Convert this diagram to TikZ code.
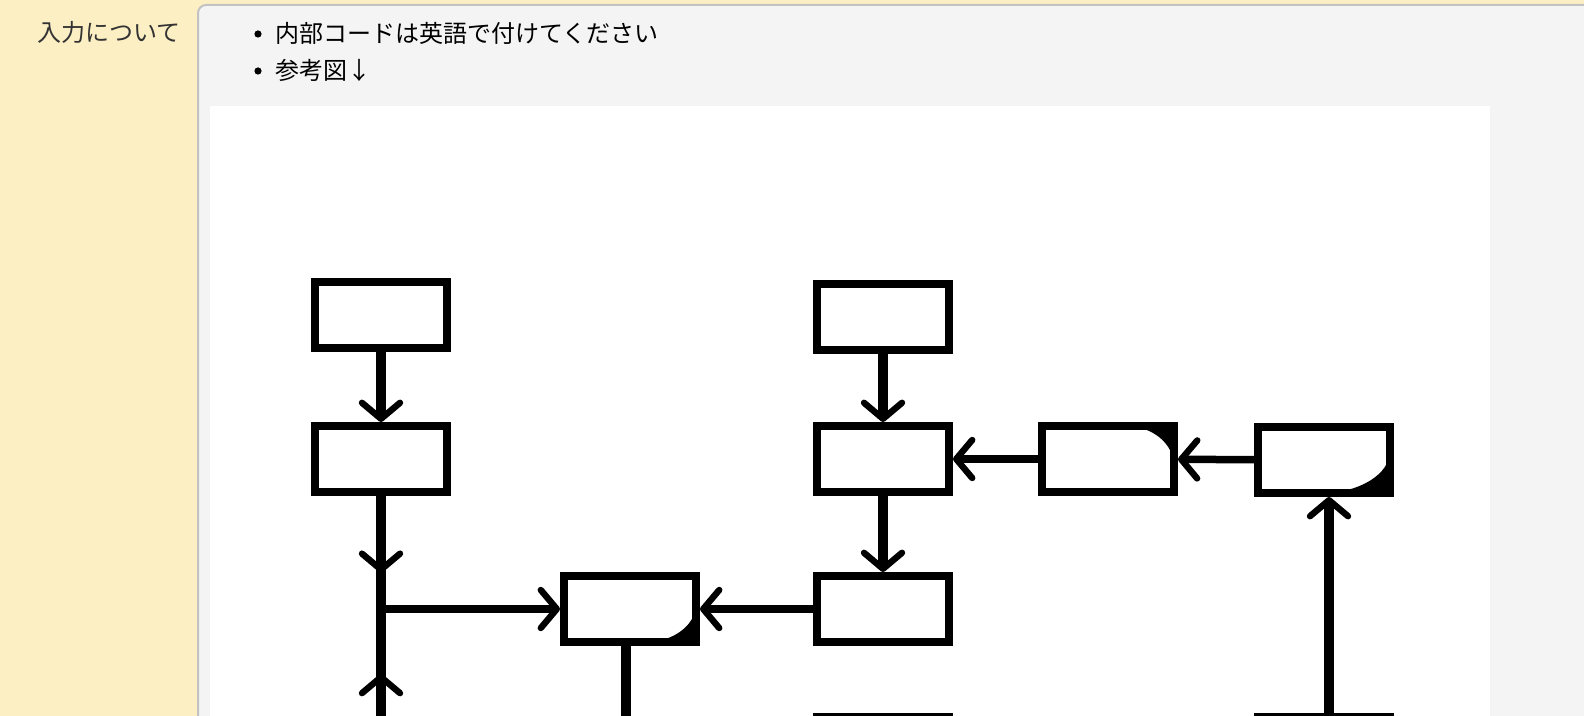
\documentclass[tikz,border=0pt]{standalone}
\usepackage{fontspec}
\setmainfont{Noto Sans CJK JP}
\usetikzlibrary{arrows.meta, decorations.markings}

\definecolor{sheetyellow}{HTML}{FCEFC4}
\definecolor{panelgray}{HTML}{F4F4F4}
\definecolor{panelrule}{HTML}{C2C2C2}
\definecolor{labelgray}{HTML}{333333}

\tikzset{
	blk/.style = {draw, line width = 4pt, fill = white, minimum width = 66pt, minimum height = 33pt, inner sep = 0pt},
	barb/.tip = {Straight Barb[length = 8pt, width = 19pt, line width = 3.2pt, round]},
	vlink/.style = {line width = 5pt},
	hlink/.style = {line width = 3.75pt},
	midbarb/.style = {postaction = {decorate}, decoration = {markings, mark = at position #1 with {\arrow{barb}}}},
	txt/.style = {inner sep = 0pt, font = \fontsize{12pt}{14pt}\selectfont},
	dot/.style = {circle, fill = black, inner sep = 0pt, minimum size = 3.6pt},
	blob ne/.style 2 args = {path picture = {
		\fill [black] (path picture bounding box.north east)
			-- ([xshift = -#1]path picture bounding box.north east)
			.. controls ([xshift = -0.45*#1]path picture bounding box.north east)
			and ([yshift = -0.45*#2]path picture bounding box.north east)
			.. ([yshift = -#2]path picture bounding box.north east) -- cycle;
	}},
	blob se/.style 2 args = {path picture = {
		\fill [black] (path picture bounding box.south east)
			-- ([xshift = -#1]path picture bounding box.south east)
			.. controls ([xshift = -0.45*#1]path picture bounding box.south east)
			and ([yshift = 0.45*#2]path picture bounding box.south east)
			.. ([yshift = #2]path picture bounding box.south east) -- cycle;
	}}
}

\begin{document}
\begin{tikzpicture}[x = 0.5pt, y = -0.5pt]

	% Page frame
	
	\useasboundingbox (0, 0) rectangle (1584, 716);
	\clip (0, 0) rectangle (1584, 716);
	\fill [sheetyellow] (0, 0) rectangle (1584, 716);
	\filldraw [fill = panelgray, draw = panelrule, line width = 1pt, rounded corners = 4pt] (198, 5) rectangle (1640, 780);
	\fill [white] (210, 106) rectangle (1490, 780);
	
	% Label and list
	
	\node [txt, anchor = east, text = labelgray] (label) at (181, 32) {入力について};
	\node [dot] (dota) at (258, 34) {};
	\node [dot] (dotb) at (258, 71) {};
	\node [txt, anchor = west] (itema) at (275, 33) {内部コードは英語で付けてください};
	\node [txt, anchor = west] (itemb) at (275, 70) {参考図↓};
	
	% Flow chart
	
	\begin{scope}
	
		\clip (210, 106) rectangle (1490, 716);
		
		\node [blk] (boxa) at (381, 315) {};
		\node [blk] (boxb) at (381, 459) {};
		\node [blk] (boxc) at (883, 317) {};
		\node [blk] (boxd) at (883, 459) {};
		\node [blk, blob ne = {24pt}{20pt}] (boxe) at (1108, 459) {};
		\node [blk, blob se = {34pt}{21pt}] (boxf) at (1324, 460) {};
		\node [blk, blob se = {25pt}{19pt}] (boxg) at (630, 609) {};
		\node [blk] (boxh) at (883, 609) {};
		\node [blk] (boxi) at (883, 750) {};
		\node [blk] (boxj) at (1324, 750) {};
		
		\coordinate (join) at (381, 609);
		\coordinate (lowin) at (381, 760);
		\coordinate (lowout) at (626, 760);
		\coordinate (upfeed) at (1329, 760);
		
		% Connectors
		
		\draw [vlink, -barb] (boxa) -- (boxb);
		\draw [vlink, -barb] (boxc) -- (boxd);
		\draw [vlink, -barb] (boxd) -- (boxh);
		\draw [vlink, -barb] (upfeed) -- (upfeed |- boxf.south);
		\draw [vlink, midbarb = 0.68] (boxb.south) -- (join);
		\draw [vlink, midbarb = 0.57] (lowin) -- (join);
		\draw [vlink] (lowout |- boxg.south) -- (lowout);
		
		\draw [hlink, -barb] (join) -- (boxg.west);
		\draw [hlink, -barb] (boxh) -- (boxg);
		\draw [hlink, -barb] (boxe) -- (boxd);
		\draw [hlink, -barb] (boxf) -- (boxe);
		
	\end{scope}
	
\end{tikzpicture}
\end{document}
